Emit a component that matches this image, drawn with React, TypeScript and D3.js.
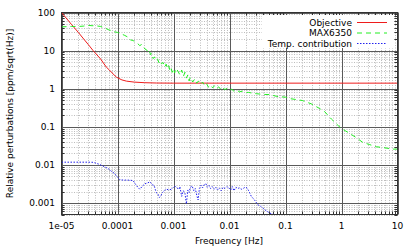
import React from 'react';
import { scaleLog, line, range } from 'd3';

// frequency [Hz], relative perturbation [ppm/sqrt(Hz)]
const objective: [number, number][] = [
  [1e-5, 100], [1.5e-5, 49], [2e-5, 30], [2.5e-5, 20], [3e-5, 14.5], [3.67e-5, 10], [4e-5, 8.7],
  [5e-5, 6], [6.3e-5, 3.7], [7e-5, 3.2], [8e-5, 2.6], [9.6e-5, 2.0], [1.2e-4, 1.7], [1.45e-4, 1.58],
  [2e-4, 1.49], [3e-4, 1.44], [5e-4, 1.41], [1e-3, 1.4], [10, 1.4]
];

const max6350: [number, number][] = [
  [1e-5, 42], [1.5e-5, 43], [2e-5, 43], [2.5e-5, 44], [3e-5, 46], [3.5e-5, 45], [4e-5, 45], [5e-5, 43],
  [6e-5, 39], [7e-5, 35], [8e-5, 33], [9e-5, 31], [1e-4, 30], [1.1e-4, 28], [1.2e-4, 27], [1.35e-4, 25],
  [1.5e-4, 23], [1.7e-4, 19], [1.9e-4, 18.5], [2.1e-4, 16], [2.3e-4, 15.2], [2.5e-4, 13.5], [2.7e-4, 14.5],
  [2.9e-4, 12.4], [3.1e-4, 11], [3.3e-4, 10.5], [3.5e-4, 9.2], [3.7e-4, 10], [3.9e-4, 7.8], [4.1e-4, 8.5],
  [4.3e-4, 6.2], [4.6e-4, 6.8], [4.9e-4, 5.5], [5.2e-4, 6.0], [5.5e-4, 4.8], [5.8e-4, 5.4], [6.1e-4, 4.5],
  [6.5e-4, 4.9], [7e-4, 3.7], [7.4e-4, 4.4], [7.8e-4, 3.4], [8.2e-4, 4.0], [8.6e-4, 3.1], [9e-4, 3.6],
  [9.5e-4, 2.7], [1.0e-3, 3.3], [1.05e-3, 2.6], [1.1e-3, 3.4], [1.2e-3, 2.9], [1.3e-3, 2.3], [1.4e-3, 3.1],
  [1.5e-3, 2.1], [1.6e-3, 2.7], [1.7e-3, 1.9], [1.8e-3, 2.3], [1.9e-3, 1.6], [2.0e-3, 2.0], [2.2e-3, 1.5],
  [2.4e-3, 1.8], [2.6e-3, 1.4], [2.8e-3, 1.6], [3.0e-3, 1.3], [3.3e-3, 1.5], [3.6e-3, 1.2], [3.9e-3, 1.35],
  [4.2e-3, 1.1], [4.6e-3, 1.25], [5.0e-3, 1.05], [5.4e-3, 1.2], [5.9e-3, 1.0], [6.4e-3, 1.12], [7.0e-3, 0.96],
  [7.6e-3, 1.08], [8.2e-3, 0.94], [9e-3, 1.02], [1e-2, 0.9], [1.1e-2, 0.97], [1.2e-2, 0.86], [1.35e-2, 0.92],
  [1.5e-2, 0.83], [1.7e-2, 0.86], [1.9e-2, 0.8], [2.2e-2, 0.8], [2.6e-2, 0.76], [3e-2, 0.74], [4e-2, 0.71],
  [5.2e-2, 0.7], [7e-2, 0.63], [0.1, 0.6], [0.12, 0.55], [0.2, 0.49], [0.29, 0.4], [0.41, 0.3], [0.5, 0.25],
  [0.66, 0.16], [0.87, 0.108], [1, 0.09], [1.2, 0.077], [1.8, 0.053], [2.4, 0.039], [3.2, 0.034],
  [4.2, 0.03], [6, 0.028], [8.4, 0.026], [10, 0.026]
];

const tempContribution: [number, number][] = [
  [1e-5, 0.0118], [2e-5, 0.0118], [3e-5, 0.0118], [3.7e-5, 0.0117], [4.8e-5, 0.0103], [5.8e-5, 0.009],
  [6.8e-5, 0.008], [7.8e-5, 0.0068], [8.9e-5, 0.0059], [1e-4, 0.0048], [1.1e-4, 0.0041], [1.26e-4, 0.004],
  [1.5e-4, 0.004], [1.9e-4, 0.0039], [2.1e-4, 0.0031], [2.3e-4, 0.0026], [2.5e-4, 0.0023], [2.8e-4, 0.0028],
  [3.1e-4, 0.0032], [3.5e-4, 0.0034], [3.8e-4, 0.0036], [4.2e-4, 0.003], [4.5e-4, 0.0029], [4.9e-4, 0.0019],
  [5.3e-4, 0.0017], [5.6e-4, 0.0014], [6.0e-4, 0.0016], [6.4e-4, 0.0019], [7e-4, 0.0022], [7.5e-4, 0.0023],
  [8.3e-4, 0.0022], [9.2e-4, 0.0023], [1.0e-3, 0.0026], [1.06e-3, 0.0028], [1.15e-3, 0.0025], [1.25e-3, 0.0023],
  [1.3e-3, 0.0027], [1.4e-3, 0.0015], [1.5e-3, 0.0021], [1.6e-3, 0.0018], [1.7e-3, 0.00095], [1.8e-3, 0.0022],
  [1.9e-3, 0.0019], [2.0e-3, 0.0026], [2.15e-3, 0.0028], [2.3e-3, 0.0021], [2.45e-3, 0.0024], [2.6e-3, 0.0016],
  [2.75e-3, 0.0012], [2.9e-3, 0.0024], [3.1e-3, 0.0029], [3.3e-3, 0.0025], [3.5e-3, 0.003], [3.8e-3, 0.0032],
  [4.0e-3, 0.0026], [4.3e-3, 0.0029], [4.6e-3, 0.0024], [4.9e-3, 0.0027], [5.3e-3, 0.0023], [5.7e-3, 0.0026],
  [6.1e-3, 0.0022], [6.6e-3, 0.0025], [7.1e-3, 0.0021], [7.7e-3, 0.0026], [8.3e-3, 0.0024], [9e-3, 0.0027],
  [9.7e-3, 0.0025], [1.05e-2, 0.0022], [1.12e-2, 0.0027], [1.2e-2, 0.0021], [1.3e-2, 0.0026], [1.4e-2, 0.0024],
  [1.5e-2, 0.0025], [1.62e-2, 0.0023], [1.75e-2, 0.0024], [1.9e-2, 0.0026], [2.05e-2, 0.0025], [2.2e-2, 0.0021],
  [2.45e-2, 0.0015], [2.8e-2, 0.0012], [3.2e-2, 0.0009], [3.6e-2, 0.00082], [4.2e-2, 0.00068], [4.9e-2, 0.00058],
  [5.6e-2, 0.00052], [6.4e-2, 0.0005], [7e-2, 0.00045]
];

const xMajor = [1e-5, 1e-4, 1e-3, 1e-2, 0.1, 1, 10];
const xTickLabels = ['1e-05', '0.0001', '0.001', '0.01', '0.1', '1', '10'];
const yMajor = [0.001, 0.01, 0.1, 1, 10, 100];
const yTickLabels = ['0.001', '0.01', '0.1', '1', '10', '100'];

const seriesNames = ['Objective', 'MAX6350', 'Temp. contribution'];
const seriesColors = ['#ee1c1c', '#22ee22', '#2222ee'];
const seriesDash = ['', '5,4', '1.5,1.5'];

const font = '"DejaVu Sans", sans-serif';

export default function App() {
  const width = 415, height = 249;
  const left = 61.5, right = 397.5, top = 12.5, bottom = 214.5;

  const x = scaleLog().domain([1e-5, 10]).range([left, right]);
  const y = scaleLog().domain([5e-4, 100]).range([bottom, top]);

  // minor grid at 2..9 x each decade
  const xMinor: number[] = [];
  range(-5, 1).forEach(e => range(2, 10).forEach(m => xMinor.push(m * Math.pow(10, e))));
  const yMinor: number[] = [];
  range(-4, 2).forEach(e => range(2, 10).forEach(m => {
    const v = m * Math.pow(10, e);
    if (v >= 5e-4 && v < 100) yMinor.push(v);
  }));

  const lineF = line<[number, number]>()
    .x(d => x(d[0]))
    .y(d => y(d[1]));

  const data = [objective, max6350, tempContribution];

  const gridMinor = { stroke: '#bdbdbd', strokeWidth: 1, strokeDasharray: '1,1.5' };
  const gridMajor = { stroke: '#5a5a5a', strokeWidth: 1 };
  const tickStyle = { stroke: '#333', strokeWidth: 1 };

  return (
    <svg width={width} height={height} style={{ position: 'absolute', left: 0, top: 0, background: '#fff' }}>
      <defs>
        <clipPath id="plot">
          <rect x={left} y={top} width={right - left} height={bottom - top} />
        </clipPath>
      </defs>
      <rect x={0} y={0} width={width} height={height} fill="#fff" />

      {xMinor.map(d => (
        <line key={'xm' + d} style={gridMinor} x1={Math.round(x(d)) + 0.5} x2={Math.round(x(d)) + 0.5} y1={top} y2={bottom} />
      ))}
      {yMinor.map(d => (
        <line key={'ym' + d} style={gridMinor} x1={left} x2={right} y1={Math.round(y(d)) + 0.5} y2={Math.round(y(d)) + 0.5} />
      ))}
      {xMajor.map(d => (
        <line key={'xM' + d} style={gridMajor} x1={Math.round(x(d)) + 0.5} x2={Math.round(x(d)) + 0.5} y1={top} y2={bottom} />
      ))}
      {yMajor.map(d => (
        <line key={'yM' + d} style={gridMajor} x1={left} x2={right} y1={Math.round(y(d)) + 0.5} y2={Math.round(y(d)) + 0.5} />
      ))}

      {/* minor ticks on all four borders */}
      {xMinor.map(d => {
        const px = Math.round(x(d)) + 0.5;
        return (
          <g key={'xt' + d}>
            <line style={tickStyle} x1={px} x2={px} y1={bottom} y2={bottom - 3} />
            <line style={tickStyle} x1={px} x2={px} y1={top} y2={top + 3} />
          </g>
        );
      })}
      {yMinor.map(d => {
        const py = Math.round(y(d)) + 0.5;
        return (
          <g key={'yt' + d}>
            <line style={tickStyle} x1={left} x2={left + 3} y1={py} y2={py} />
            <line style={tickStyle} x1={right} x2={right - 3} y1={py} y2={py} />
          </g>
        );
      })}

      <g clipPath="url(#plot)">
        {data.map((d, i) => (
          <path key={i} d={lineF(d) || ''} fill="none" stroke={seriesColors[i]}
            strokeWidth={1} strokeDasharray={seriesDash[i] || undefined} />
        ))}
      </g>

      <rect x={left} y={top} width={right - left} height={bottom - top} fill="none" stroke="#333" strokeWidth={1} />

      {/* legend */}
      <rect x={262} y={15} width={131} height={33} fill="#fff" />
      {seriesNames.map((name, i) => {
        const ly = 22.5 + i * 10.5;
        return (
          <g key={name}>
            <text x={352} y={ly + 3.2} fontFamily={font} fontSize={9} textAnchor="end" fill="#000">{name}</text>
            <line x1={357} x2={387} y1={ly} y2={ly} stroke={seriesColors[i]} strokeWidth={1}
              strokeDasharray={seriesDash[i] || undefined} />
          </g>
        );
      })}

      {xMajor.map((d, i) => (
        <text key={'xl' + d} x={x(d)} y={229} fontFamily={font} fontSize={9} textAnchor="middle" fill="#000">
          {xTickLabels[i]}
        </text>
      ))}
      {yMajor.map((d, i) => (
        <text key={'yl' + d} x={55} y={y(d) + 3.2} fontFamily={font} fontSize={9} textAnchor="end" fill="#000">
          {yTickLabels[i]}
        </text>
      ))}

      <text x={229} y={244} fontFamily={font} fontSize={9} textAnchor="middle" fill="#000">Frequency [Hz]</text>
      <text transform="translate(12.5,113.5) rotate(-90)" fontFamily={font} fontSize={9} textAnchor="middle" fill="#000">
        Relative perturbations [ppm/sqrt(Hz)]
      </text>
    </svg>
  );
}
